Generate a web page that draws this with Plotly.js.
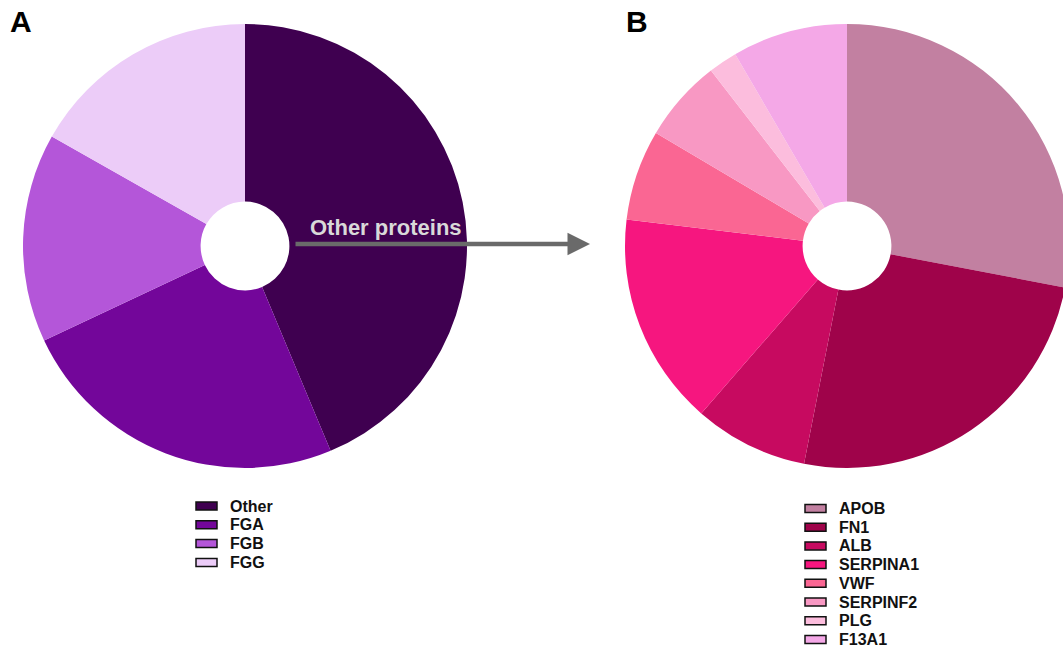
<!DOCTYPE html>
<html>
<head>
<meta charset="utf-8">
<script src="https://cdn.plot.ly/plotly-3.0.1.min.js"></script>
<style>
html, body { margin: 0; padding: 0; overflow: hidden; background: #fff; }
#chart { width: 1075px; height: 653px; }
</style>
</head>
<body>
<div id="chart"></div>
<script>
// Data
var leftLabels = ["Other", "FGA", "FGB", "FGG"];
var leftValues = [43.7, 24.3, 15.2, 16.8];
var leftColors = ["#3f0050", "#73069a", "#b456d9", "#ecccf8"];

var rightLabels = ["APOB", "FN1", "ALB", "SERPINA1", "VWF", "SERPINF2", "PLG", "F13A1"];
var rightValues = [28.0, 25.1, 8.3, 15.5, 6.6, 6.0, 2.1, 8.4];
var rightColors = ["#c280a1", "#9f034a", "#c70a60", "#f6167f", "#fa6693", "#f898c3", "#fcbddd", "#f4a8e7"];

var W = 1075, H = 653;
function px(x) { return x / W; }
function py(y) { return 1 - y / H; }

var traces = [
  {
    type: "pie", labels: leftLabels, values: leftValues,
    marker: { colors: leftColors, line: { width: 0 } },
    hole: 0.2, sort: false, direction: "clockwise", rotation: 0,
    textinfo: "none", showlegend: false,
    domain: { x: [px(23), px(467)], y: [py(468), py(24)] }
  },
  {
    type: "pie", labels: rightLabels, values: rightValues,
    marker: { colors: rightColors, line: { width: 0 } },
    hole: 0.2, sort: false, direction: "clockwise", rotation: 0,
    textinfo: "none", showlegend: false,
    domain: { x: [px(625), px(1069)], y: [py(468), py(24)] }
  }
];

var shapes = [];
var annotations = [];
var font = "Liberation Sans, Arial, sans-serif";

function addLegend(labels, colors, x0, y0, step) {
  for (var i = 0; i < labels.length; i++) {
    var yc = y0 + i * step;
    shapes.push({
      type: "rect", xref: "paper", yref: "paper",
      x0: px(x0), x1: px(x0 + 21), y0: py(yc + 4), y1: py(yc - 4),
      fillcolor: colors[i], line: { color: "#111", width: 1.5 }
    });
    annotations.push({
      xref: "paper", yref: "paper", x: px(x0 + 32), y: py(yc),
      xanchor: "left", yanchor: "middle", showarrow: false,
      text: "<b>" + labels[i] + "</b>",
      font: { family: font, size: 16, color: "#111" }
    });
  }
}
addLegend(leftLabels, leftColors, 196, 506, 18.8);
addLegend(rightLabels, rightColors, 805, 508.5, 18.7);

// Arrow
annotations.push({
  xref: "paper", yref: "paper", axref: "paper", ayref: "paper",
  x: px(590), y: py(244), ax: px(294), ay: py(244),
  showarrow: true, arrowhead: 2, arrowsize: 1, arrowwidth: 4.5,
  arrowcolor: "#6a6a6a", text: ""
});
annotations.push({
  xref: "paper", yref: "paper", x: px(386), y: py(228),
  xanchor: "center", yanchor: "middle", showarrow: false,
  text: "<b>Other proteins</b>",
  font: { family: font, size: 22, color: "#d9d9d9" }
});

// Panel letters
annotations.push({
  xref: "paper", yref: "paper", x: px(21), y: py(22),
  xanchor: "center", yanchor: "middle", showarrow: false,
  text: "<b>A</b>", font: { family: font, size: 30, color: "#000" }
});
annotations.push({
  xref: "paper", yref: "paper", x: px(637), y: py(22),
  xanchor: "center", yanchor: "middle", showarrow: false,
  text: "<b>B</b>", font: { family: font, size: 30, color: "#000" }
});

var layout = {
  width: W, height: H,
  margin: { l: 0, r: 0, t: 0, b: 0 },
  paper_bgcolor: "#ffffff",
  showlegend: false,
  shapes: shapes,
  annotations: annotations
};

Plotly.newPlot("chart", traces, layout, { displayModeBar: false, staticPlot: true });
</script>
</body>
</html>
